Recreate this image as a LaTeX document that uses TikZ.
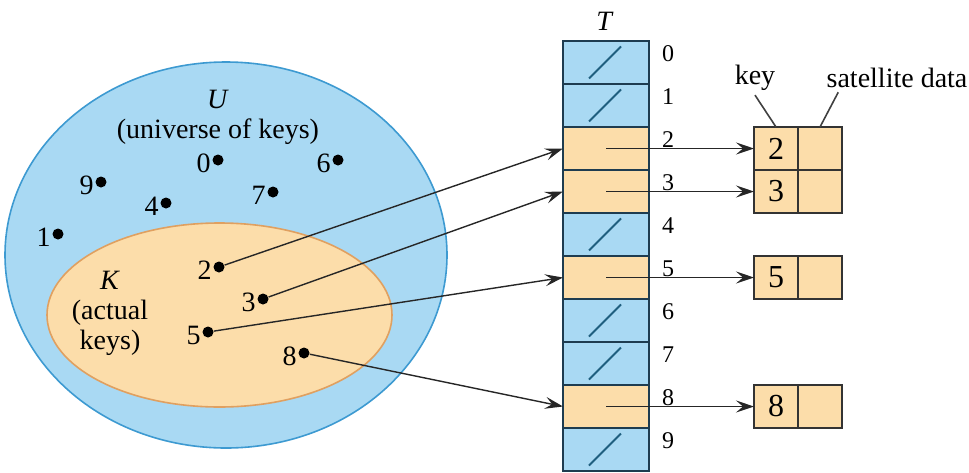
\documentclass[tikz,border=0pt]{standalone}
\usepackage{fontspec}
\setmainfont{Liberation Serif}
\newfontfamily\diagfont{Liberation Serif}
\usetikzlibrary{shapes.geometric,arrows.meta,positioning}

\definecolor{keyblue}{HTML}{A9D9F3}
\definecolor{keyblueline}{HTML}{3D9AD1}
\definecolor{keyorange}{HTML}{FCDDAA}
\definecolor{keyorangeline}{HTML}{E0A060}
\definecolor{tableline}{HTML}{1E3C50}
\definecolor{nilline}{HTML}{1F5F7F}

\begin{document}
\begin{tikzpicture}[
    x=0.5pt, y=-0.5pt,
    every node/.style={font=\diagfont\fontsize{14}{15}\selectfont},
    universe/.style={draw=keyblueline, fill=keyblue, ellipse, line width=0.8pt, inner sep=0pt, minimum width=221pt, minimum height=193pt},
    actual/.style={draw=keyorangeline, fill=keyorange, ellipse, line width=0.8pt, inner sep=0pt, minimum width=172.5pt, minimum height=92pt},
    keydot/.style={circle, fill=black, inner sep=0pt, minimum size=5.5pt, label distance=4pt},
    keylbl/.style={inner sep=0.5pt, yshift=-1.5pt},
    cell/.style={draw=tableline, line width=1pt, minimum width=43pt, minimum height=21.5pt, inner sep=0pt, outer sep=0pt},
    nilcell/.style={cell, fill=keyblue, path picture={\draw[nilline, line width=0.9pt] ([shift={(-8.5pt,-8pt)}]path picture bounding box.center) -- ++(16pt,16pt);}},
    fullcell/.style={cell, fill=keyorange},
    idx/.style={font=\diagfont\fontsize{12}{14}\selectfont, inner sep=0pt},
    elemkey/.style={draw=black!80, line width=0.9pt, fill=keyorange, minimum width=22pt, minimum height=21.5pt, inner sep=0pt, outer sep=0pt, font=\diagfont\fontsize{16}{18}\selectfont},
    elemdata/.style={elemkey},
    hashptr/.style={-{Stealth[length=9pt, width=6pt, inset=3.5pt]}, line width=0.7pt, black!85},
    callout/.style={line width=0.8pt, black!75},
]
\useasboundingbox (0,0) rectangle (969,472);

% Universe of keys
\node[universe] (univ) at (226, 255) {};
\node[actual] (actual) at (219.5, 315) {};
\node[align=center] (uname) at (218, 117) {\textit{U}\\(universe of keys)};
\node[align=center] (kname) at (110, 313) {\textit{K}\\(actual\\keys)};

% Keys
\node[keydot, label={[keylbl]left:0}] (k0) at (218, 160) {};
\node[keydot, label={[keylbl]left:6}] (k6) at (338, 160) {};
\node[keydot, label={[keylbl]left:9}] (k9) at (101, 182) {};
\node[keydot, label={[keylbl]left:7}] (k7) at (273, 192) {};
\node[keydot, label={[keylbl]left:4}] (k4) at (166, 203) {};
\node[keydot, label={[keylbl]left:1}] (k1) at (58, 234) {};
\node[keydot, label={[keylbl]left:2}] (k2) at (219, 267) {};
\node[keydot, label={[keylbl]left:3}] (k3) at (263, 299) {};
\node[keydot, label={[keylbl]left:5}] (k5) at (208, 332) {};
\node[keydot, label={[keylbl]left:8}] (k8) at (304, 353) {};

% Table T
\node (tname) at (605, 21) {\textit{T}};
\node[nilcell] (t0) at (606, 62.5) {};
\node[nilcell, below=0pt of t0] (t1) {};
\node[fullcell, below=0pt of t1] (t2) {};
\node[fullcell, below=0pt of t2] (t3) {};
\node[nilcell, below=0pt of t3] (t4) {};
\node[fullcell, below=0pt of t4] (t5) {};
\node[nilcell, below=0pt of t5] (t6) {};
\node[nilcell, below=0pt of t6] (t7) {};
\node[fullcell, below=0pt of t7] (t8) {};
\node[nilcell, below=0pt of t8] (t9) {};

% Slot numbers
\node[idx] (i0) at (668, 53.5) {0};
\node[idx] (i1) at (668, 96.5) {1};
\node[idx] (i2) at (668, 139.5) {2};
\node[idx] (i3) at (668, 182.5) {3};
\node[idx] (i4) at (668, 225.5) {4};
\node[idx] (i5) at (668, 268.5) {5};
\node[idx] (i6) at (668, 311.5) {6};
\node[idx] (i7) at (668, 354.5) {7};
\node[idx] (i8) at (668, 397.5) {8};
\node[idx] (i9) at (668, 440.5) {9};

% Elements
\node[elemkey] (e2k) at (776, 148.5) {2};
\node[elemdata, right=0pt of e2k] (e2d) {};
\node[elemkey, below=0pt of e2k] (e3k) {3};
\node[elemdata, right=0pt of e3k] (e3d) {};
\node[elemkey] (e5k) at (776, 277.5) {5};
\node[elemdata, right=0pt of e5k] (e5d) {};
\node[elemkey] (e8k) at (776, 406.5) {8};
\node[elemdata, right=0pt of e8k] (e8d) {};

% Element field names
\node[inner sep=2pt] (keyname) at (755, 78) {key};
\node[inner sep=2pt] (satname) at (897, 78) {satellite data};
\draw[callout] (keyname.south) -- (e2k.north);
\draw[callout] ([xshift=8pt]satname.south west) -- (e2d.north);

% Hashing keys into slots
\draw[hashptr] (k2) -- (t2.west);
\draw[hashptr] (k3) -- (t3.west);
\draw[hashptr] (k5) -- (t5.west);
\draw[hashptr] (k8) -- (t8.west);

% Slots to elements
\draw[hashptr] (t2.center) -- (e2k.west);
\draw[hashptr] (t3.center) -- (e3k.west);
\draw[hashptr] (t5.center) -- (e5k.west);
\draw[hashptr] (t8.center) -- (e8k.west);

\end{tikzpicture}
\end{document}
